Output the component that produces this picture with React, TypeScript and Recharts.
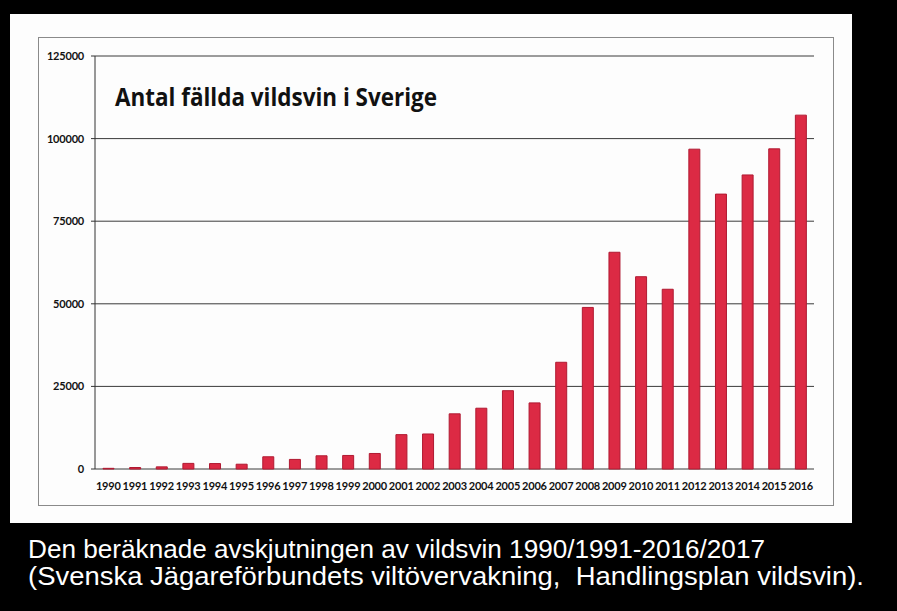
import React from "react";
import { BarChart, Bar, XAxis, YAxis, CartesianGrid } from "recharts";

// Antal fällda vildsvin per jaktår
const years = [
  "1990", "1991", "1992", "1993", "1994", "1995", "1996", "1997", "1998",
  "1999", "2000", "2001", "2002", "2003", "2004", "2005", "2006", "2007",
  "2008", "2009", "2010", "2011", "2012", "2013", "2014", "2015", "2016",
];
const killed = [
  200, 450, 650, 1700, 1650, 1450, 3700, 2900, 4000,
  4100, 4700, 10400, 10600, 16700, 18400, 23700, 20000, 32300,
  48900, 65600, 58200, 54400, 96800, 83200, 89000, 96900, 107100,
];
const yTicks = [0, 25000, 50000, 75000, 100000, 125000];
const edgeTicks = Array.from({ length: years.length + 1 }, (_, i) => i);

const title = "Antal fällda vildsvin i Sverige";
const caption1 = "Den beräknade avskjutningen av vildsvin 1990/1991-2016/2017";
const caption2 = "(Svenska Jägareförbundets viltövervakning,  Handlingsplan vildsvin).";

const data = years.map((year, i) => ({ year, value: killed[i], pos: i + 0.5 }));

const W = 897;
const H = 611;

const tickFont = {
  fill: "#111",
  fontFamily: "Lato, sans-serif",
  fontWeight: 700,
  fontSize: 11,
  letterSpacing: -0.2,
};

export default function App() {
  return (
    <div
      style={{
        position: "absolute",
        left: 0,
        top: 0,
        width: W,
        height: H,
        background: "#000",
        overflow: "hidden",
      }}
    >
      {/* white scanned page */}
      <div
        style={{
          position: "absolute",
          left: 10,
          top: 14,
          width: 842,
          height: 509,
          background: "#fdfdfd",
        }}
      />
      {/* chart frame */}
      <div
        style={{
          position: "absolute",
          left: 38,
          top: 37,
          width: 794,
          height: 467,
          border: "1px solid #8a8a8a",
        }}
      />
      <div style={{ position: "absolute", left: 0, top: 0 }}>
        <BarChart
          width={W}
          height={H}
          data={data}
          margin={{ top: 56, right: 83, bottom: 112, left: 38 }}
          barCategoryGap={0}
        >
          <CartesianGrid
            horizontal
            vertical={false}
            stroke="#3a3a3a"
            strokeWidth={1}
          />
          <XAxis
            xAxisId="edges"
            type="number"
            dataKey="pos"
            domain={[0, years.length]}
            ticks={edgeTicks}
            allowDataOverflow
            height={0}
            tickSize={3}
            tickFormatter={() => ""}
            axisLine={{ stroke: "#333" }}
            tickLine={{ stroke: "#333" }}
          />
          <XAxis
            xAxisId="cat"
            dataKey="year"
            height={30}
            axisLine={false}
            tickLine={false}
            interval={0}
            tickMargin={7}
            fontSize={11}
            tick={tickFont}
          />
          <YAxis
            width={57}
            domain={[0, 125000]}
            ticks={yTicks}
            interval={0}
            tickSize={4}
            tickMargin={7}
            fontSize={11}
            axisLine={{ stroke: "#333" }}
            tickLine={{ stroke: "#333" }}
            tick={tickFont}
          />
          <Bar
            xAxisId="cat"
            dataKey="value"
            barSize={11}
            fill="#dc2a44"
            stroke="#b01a32"
            strokeWidth={1}
            isAnimationActive={false}
          />
        </BarChart>
      </div>
      <svg
        width={W}
        height={H}
        style={{ position: "absolute", left: 0, top: 0, pointerEvents: "none" }}
      >
        <text
          x={115}
          y={106}
          fontSize={25}
          fontWeight={700}
          fontFamily="'Open Sans', sans-serif"
          fill="#111"
          textLength={322}
          lengthAdjust="spacingAndGlyphs"
        >
          {title}
        </text>
        <text
          x={28}
          y={558}
          fontSize={26}
          fontFamily="'Liberation Sans', Arial, sans-serif"
          fill="#fff"
          textLength={737}
          lengthAdjust="spacingAndGlyphs"
        >
          {caption1}
        </text>
        <text
          x={28}
          y={585}
          fontSize={26}
          fontFamily="'Liberation Sans', Arial, sans-serif"
          fill="#fff"
          textLength={836}
          lengthAdjust="spacingAndGlyphs"
          style={{ whiteSpace: "pre" }}
        >
          {caption2}
        </text>
      </svg>
    </div>
  );
}
